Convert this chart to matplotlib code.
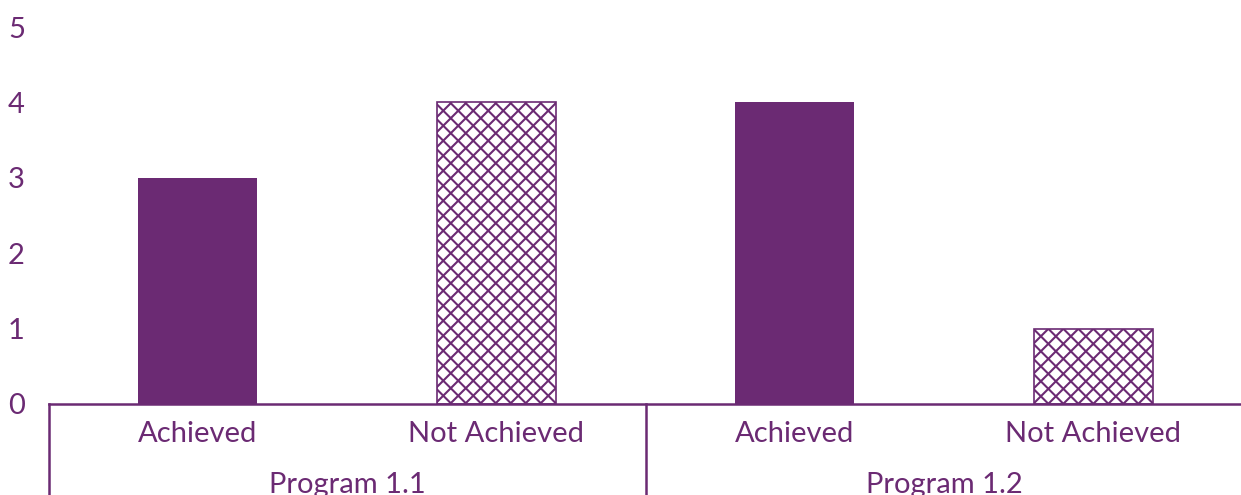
import matplotlib.pyplot as plt
import numpy as np
from matplotlib.collections import LineCollection

plt.rcParams['font.family'] = ['Lato', 'DejaVu Sans']

purple = '#6b2a73'

programs = ['Program 1.1', 'Program 1.2']
statuses = ['Achieved', 'Not Achieved', 'Achieved', 'Not Achieved']
counts = [3, 4, 4, 1]
hatched = [False, True, False, True]

W, H = 1241, 495
fig = plt.figure(figsize=(W / 100, H / 100), dpi=100)
ax_l, ax_b, ax_w, ax_h = 48.5, 91, 1194, 377
ax = fig.add_axes([ax_l / W, ax_b / H, ax_w / W, ax_h / H])

n = len(counts)
x = np.arange(n)
px_x = ax_w / n      # pixels per x unit
px_y = ax_h / 5      # pixels per y unit

for xi, c, h in zip(x, counts, hatched):
    if not h:
        ax.bar(xi, c, width=0.4, color=purple)
        continue
    bar = ax.bar(xi, c, width=0.4, facecolor='white', edgecolor=purple,
                 linewidth=1.2)[0]
    # denser cross hatch than matplotlib's 'x', drawn by hand
    x0 = xi - 0.2
    wpx, hpx = 0.4 * px_x, c * px_y
    step = 15
    segs = []
    for k in np.arange(-hpx, wpx + hpx, step):
        segs.append([(x0 + k / px_x, 0), (x0 + (k + hpx) / px_x, c)])
        segs.append([(x0 + k / px_x, c), (x0 + (k + hpx) / px_x, 0)])
    lc = LineCollection(segs, colors=purple, linewidths=1.5)
    ax.add_collection(lc)
    lc.set_clip_path(bar)

ax.set_xlim(-0.5, n - 0.5)
ax.set_ylim(0, 5)
ax.set_yticks(range(6))
ax.tick_params(axis='y', length=0, pad=17, labelsize=21, labelcolor=purple)
ax.set_xticks([])
for s in ['top', 'right', 'left']:
    ax.spines[s].set_visible(False)
ax.spines['bottom'].set_color(purple)
ax.spines['bottom'].set_linewidth(1.8)

# category labels and group boxes below the axis
trans = ax.get_xaxis_transform()
for xi, lab in zip(x, statuses):
    ax.text(xi, -0.08, lab, transform=trans, ha='center', va='center',
            fontsize=21, color=purple)
for gi, name in enumerate(programs):
    ax.text(gi * 2 + 0.5, -0.215, name, transform=trans, ha='center',
            va='center', fontsize=21, color=purple)
for bx in [-0.5, 1.5, 3.5]:
    ax.plot([bx, bx], [0, -0.3], transform=trans, color=purple,
            linewidth=1.8, clip_on=False)

fig.savefig('out.png', dpi=100)
